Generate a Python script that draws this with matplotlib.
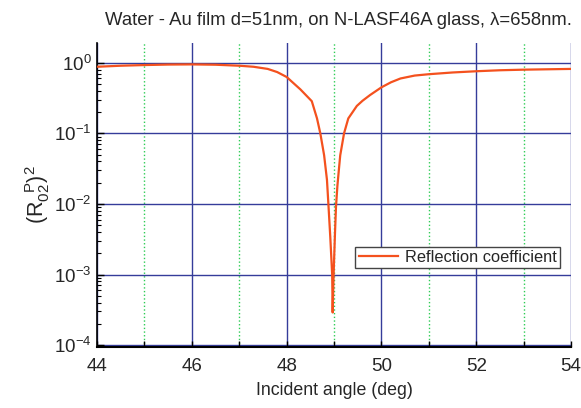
import numpy as np
import matplotlib.pyplot as plt

# Reflectance curve
angle = [44.0, 44.5, 45.0, 45.5, 46.0, 46.5, 47.0, 47.3, 47.6, 47.8, 48.0,
         48.29, 48.53, 48.64, 48.71, 48.79, 48.85, 48.88, 48.92, 48.96, 48.97,
         48.99, 49.02, 49.04, 49.07, 49.1, 49.13, 49.21, 49.3, 49.48, 49.6, 49.76,
         50.0, 50.2, 50.4, 50.7, 51.0, 51.5, 52.0, 52.5, 53.0, 53.5, 54.0]
refl = [0.88, 0.91, 0.93, 0.945, 0.95, 0.94, 0.91, 0.88, 0.82, 0.74, 0.63,
        0.42, 0.286, 0.163, 0.10, 0.049, 0.022, 0.01, 0.0034, 0.001, 0.00029,
        0.001, 0.004, 0.009, 0.018, 0.03, 0.049, 0.10, 0.163, 0.245, 0.29, 0.35,
        0.45, 0.53, 0.60, 0.66, 0.69, 0.73, 0.76, 0.785, 0.80, 0.81, 0.82]

x_major = [44, 46, 48, 50, 52, 54]
x_minor = [45, 47, 49, 51, 53]
y_decades = [1e-4, 1e-3, 1e-2, 1e-1, 1e0]

plt.rcParams['font.family'] = ['Liberation Sans', 'DejaVu Sans']
plt.rcParams['mathtext.fontset'] = 'custom'
plt.rcParams['mathtext.rm'] = 'Liberation Sans'
plt.rcParams['mathtext.it'] = 'Liberation Sans:italic'

navy = '#353C9A'
green = '#2ECC55'
red = '#F4511E'
txt = '#262626'

fig = plt.figure(figsize=(5.81, 4.08), dpi=100)
ax = fig.add_axes([0.167, 0.1495, 0.816, 0.7455])

ax.set_yscale('log')
ax.set_xlim(44, 54)
ax.set_ylim(0.94e-4, 1.92)

# grid: navy solid at even angles and decades, green dotted at odd angles
for xv in x_major:
    ax.axvline(xv, color=navy, lw=1.0, zorder=1)
for xv in x_minor:
    ax.axvline(xv, color=green, lw=1.0, ls=':', zorder=1)
for yv in y_decades:
    ax.axhline(yv, color=navy, lw=1.0, zorder=1)

ax.plot(angle, refl, color=red, lw=1.6, zorder=3, label='Reflection coefficient')

ax.set_xticks(range(44, 55))
ax.set_xticklabels([str(v) if v % 2 == 0 else '' for v in range(44, 55)])
ax.set_yticks(y_decades)
ax.set_yticklabels([r'$10^{%d}$' % int(np.log10(v)) for v in y_decades])

ax.tick_params(axis='both', which='both', direction='in', labelsize=13.5,
               labelcolor=txt)
ax.tick_params(axis='x', which='major', length=4, width=1.0, pad=8)
ax.tick_params(axis='y', which='major', length=5, width=1.0, pad=4)
ax.tick_params(axis='y', which='minor', length=3, width=0.8)

for s in ['top', 'right']:
    ax.spines[s].set_visible(False)
ax.spines['left'].set_linewidth(1.2)
ax.spines['bottom'].set_linewidth(1.5)

ax.set_xlabel('Incident angle (deg)', fontsize=12.8, labelpad=5, color=txt)
ax.set_ylabel(r'$(\mathrm{R}_{02}^{\ \ \mathrm{P}})^2$', fontsize=15.5,
              labelpad=1, color=txt)
ax.set_title(u'Water - Au film d=51nm, on N-LASF46A glass, \u03bb=658nm.',
             fontsize=13.3, pad=13, x=0.51, color=txt)

leg = ax.legend(loc='lower right', bbox_to_anchor=(0.993, 0.232), fontsize=11.8,
                fancybox=False, framealpha=1, edgecolor='#444444',
                handlelength=2.4, borderpad=0.2, handletextpad=0.4)
leg.get_frame().set_linewidth(1.0)
for t in leg.get_texts():
    t.set_color(txt)

fig.savefig('out.png', dpi=100)
